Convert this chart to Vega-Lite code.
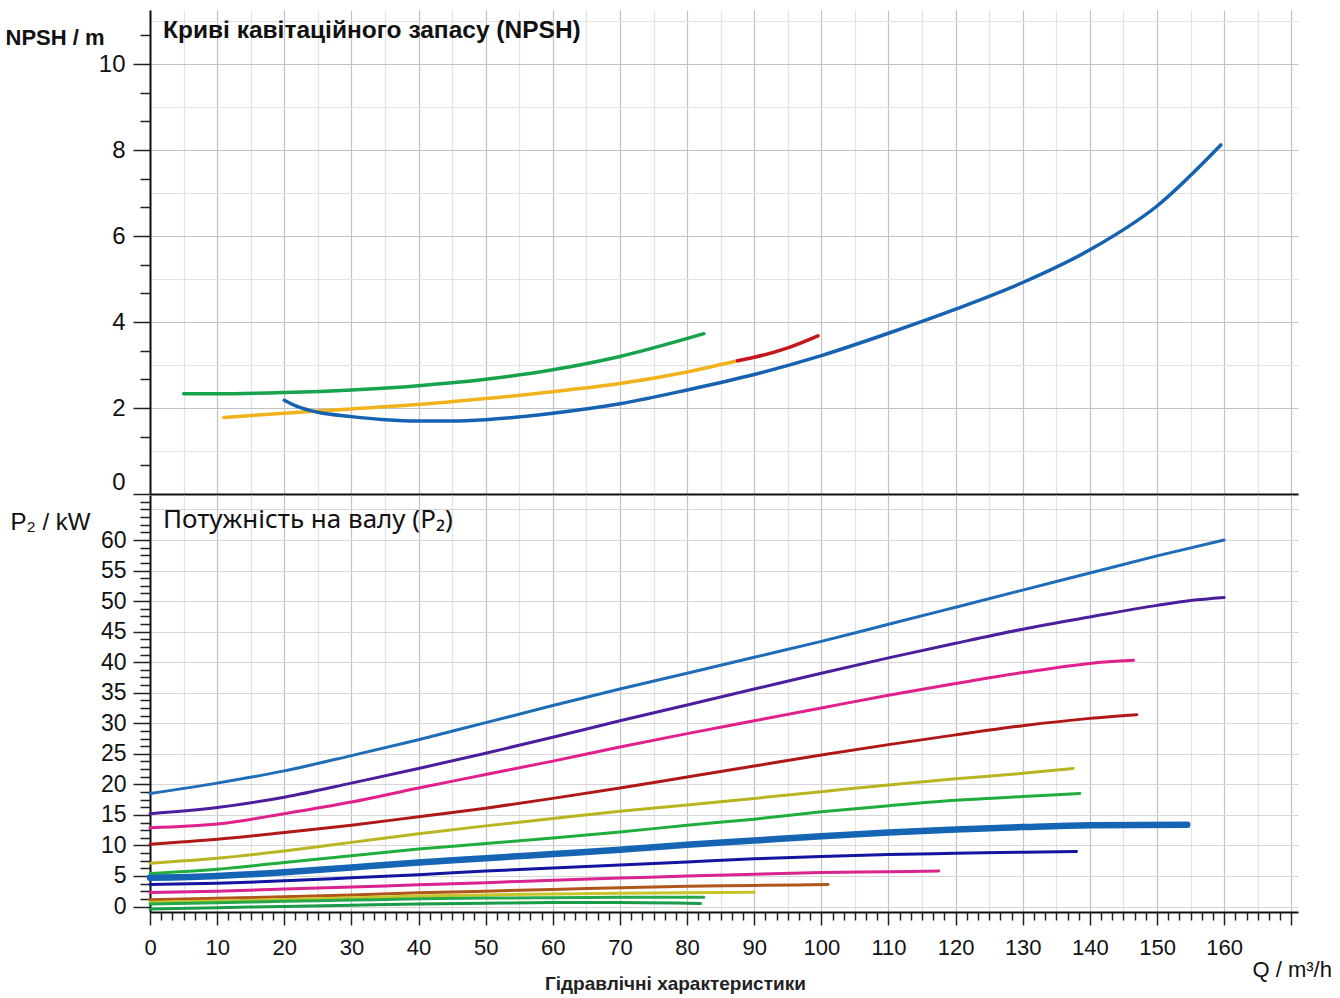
{
"$schema":"https://vega.github.io/schema/vega-lite/v6.json",
"padding":{"left":5,"top":10,"right":5,"bottom":5},
"background":"white",
"spacing":0,
"resolve":{"scale":{"color":"independent"}},
"config":{"font":"Liberation Sans","view":{"stroke":null},"concat":{"spacing":0}},
"title":{"text":"Гідравлічні характеристики","orient":"bottom","anchor":"start","dx":540,"offset":-5,"fontSize":19,"fontWeight":"bold","color":"#222"},
"datasets":{
"npsh":[
{"c":"n1","Q":5,"v":2.33},{"c":"n1","Q":10,"v":2.33},{"c":"n1","Q":20,"v":2.36},{"c":"n1","Q":30,"v":2.42},{"c":"n1","Q":40,"v":2.52},{"c":"n1","Q":50,"v":2.67},{"c":"n1","Q":60,"v":2.89},{"c":"n1","Q":70,"v":3.2},{"c":"n1","Q":82.5,"v":3.73},
{"c":"n2","Q":11,"v":1.78},{"c":"n2","Q":20,"v":1.88},{"c":"n2","Q":30,"v":1.98},{"c":"n2","Q":40,"v":2.08},{"c":"n2","Q":50,"v":2.22},{"c":"n2","Q":60,"v":2.38},{"c":"n2","Q":70,"v":2.57},{"c":"n2","Q":80,"v":2.84},{"c":"n2","Q":87.5,"v":3.1},
{"c":"n3","Q":87.5,"v":3.1},{"c":"n3","Q":90,"v":3.18},{"c":"n3","Q":95,"v":3.4},{"c":"n3","Q":99.5,"v":3.68},
{"c":"n4","Q":20,"v":2.18},{"c":"n4","Q":22,"v":2.03},{"c":"n4","Q":25,"v":1.9},{"c":"n4","Q":30,"v":1.8},{"c":"n4","Q":35,"v":1.73},{"c":"n4","Q":40,"v":1.7},{"c":"n4","Q":45,"v":1.7},{"c":"n4","Q":50,"v":1.73},{"c":"n4","Q":60,"v":1.88},{"c":"n4","Q":70,"v":2.1},{"c":"n4","Q":80,"v":2.42},{"c":"n4","Q":90,"v":2.78},{"c":"n4","Q":100,"v":3.22},{"c":"n4","Q":110,"v":3.74},{"c":"n4","Q":120,"v":4.3},{"c":"n4","Q":130,"v":4.92},{"c":"n4","Q":140,"v":5.68},{"c":"n4","Q":150,"v":6.7},{"c":"n4","Q":159.5,"v":8.12}
],
"power":[
{"c":"p01","Q":0,"v":18.5},{"c":"p01","Q":10,"v":20.2},{"c":"p01","Q":20,"v":22.2},{"c":"p01","Q":30,"v":24.7},{"c":"p01","Q":40,"v":27.3},{"c":"p01","Q":50,"v":30.1},{"c":"p01","Q":60,"v":32.9},{"c":"p01","Q":70,"v":35.6},{"c":"p01","Q":80,"v":38.2},{"c":"p01","Q":90,"v":40.8},{"c":"p01","Q":100,"v":43.4},{"c":"p01","Q":110,"v":46.2},{"c":"p01","Q":120,"v":49.0},{"c":"p01","Q":130,"v":51.8},{"c":"p01","Q":140,"v":54.6},{"c":"p01","Q":150,"v":57.4},{"c":"p01","Q":160,"v":60},
{"c":"p02","Q":0,"v":15.2},{"c":"p02","Q":10,"v":16.2},{"c":"p02","Q":20,"v":17.9},{"c":"p02","Q":30,"v":20.2},{"c":"p02","Q":40,"v":22.6},{"c":"p02","Q":50,"v":25.1},{"c":"p02","Q":60,"v":27.7},{"c":"p02","Q":70,"v":30.4},{"c":"p02","Q":80,"v":33.0},{"c":"p02","Q":90,"v":35.6},{"c":"p02","Q":100,"v":38.2},{"c":"p02","Q":110,"v":40.7},{"c":"p02","Q":120,"v":43.1},{"c":"p02","Q":130,"v":45.4},{"c":"p02","Q":140,"v":47.4},{"c":"p02","Q":150,"v":49.3},{"c":"p02","Q":155,"v":50.1},{"c":"p02","Q":160,"v":50.6},
{"c":"p03","Q":0,"v":12.9},{"c":"p03","Q":10,"v":13.5},{"c":"p03","Q":20,"v":15.2},{"c":"p03","Q":30,"v":17.1},{"c":"p03","Q":40,"v":19.4},{"c":"p03","Q":50,"v":21.6},{"c":"p03","Q":60,"v":23.8},{"c":"p03","Q":70,"v":26.1},{"c":"p03","Q":80,"v":28.3},{"c":"p03","Q":90,"v":30.4},{"c":"p03","Q":100,"v":32.5},{"c":"p03","Q":110,"v":34.6},{"c":"p03","Q":120,"v":36.5},{"c":"p03","Q":130,"v":38.3},{"c":"p03","Q":140,"v":39.8},{"c":"p03","Q":146.5,"v":40.3},
{"c":"p04","Q":0,"v":10.2},{"c":"p04","Q":10,"v":11.0},{"c":"p04","Q":20,"v":12.1},{"c":"p04","Q":30,"v":13.3},{"c":"p04","Q":40,"v":14.7},{"c":"p04","Q":50,"v":16.1},{"c":"p04","Q":60,"v":17.7},{"c":"p04","Q":70,"v":19.4},{"c":"p04","Q":80,"v":21.2},{"c":"p04","Q":90,"v":23.0},{"c":"p04","Q":100,"v":24.8},{"c":"p04","Q":110,"v":26.5},{"c":"p04","Q":120,"v":28.1},{"c":"p04","Q":130,"v":29.6},{"c":"p04","Q":140,"v":30.8},{"c":"p04","Q":147,"v":31.4},
{"c":"p05","Q":0,"v":7.1},{"c":"p05","Q":10,"v":7.9},{"c":"p05","Q":20,"v":9.1},{"c":"p05","Q":30,"v":10.5},{"c":"p05","Q":40,"v":11.9},{"c":"p05","Q":50,"v":13.2},{"c":"p05","Q":60,"v":14.4},{"c":"p05","Q":70,"v":15.6},{"c":"p05","Q":80,"v":16.6},{"c":"p05","Q":90,"v":17.7},{"c":"p05","Q":100,"v":18.8},{"c":"p05","Q":110,"v":19.9},{"c":"p05","Q":120,"v":20.9},{"c":"p05","Q":130,"v":21.8},{"c":"p05","Q":137.5,"v":22.6},
{"c":"p06","Q":0,"v":5.4},{"c":"p06","Q":10,"v":6.1},{"c":"p06","Q":20,"v":7.2},{"c":"p06","Q":30,"v":8.3},{"c":"p06","Q":40,"v":9.4},{"c":"p06","Q":50,"v":10.3},{"c":"p06","Q":60,"v":11.2},{"c":"p06","Q":70,"v":12.2},{"c":"p06","Q":80,"v":13.3},{"c":"p06","Q":90,"v":14.3},{"c":"p06","Q":100,"v":15.5},{"c":"p06","Q":110,"v":16.5},{"c":"p06","Q":120,"v":17.4},{"c":"p06","Q":130,"v":18.0},{"c":"p06","Q":138.5,"v":18.5},
{"c":"p07","Q":0,"v":4.7},{"c":"p07","Q":10,"v":5.0},{"c":"p07","Q":20,"v":5.6},{"c":"p07","Q":30,"v":6.4},{"c":"p07","Q":40,"v":7.2},{"c":"p07","Q":50,"v":7.9},{"c":"p07","Q":60,"v":8.6},{"c":"p07","Q":70,"v":9.3},{"c":"p07","Q":80,"v":10.1},{"c":"p07","Q":90,"v":10.8},{"c":"p07","Q":100,"v":11.5},{"c":"p07","Q":110,"v":12.1},{"c":"p07","Q":120,"v":12.6},{"c":"p07","Q":130,"v":13.0},{"c":"p07","Q":140,"v":13.3},{"c":"p07","Q":154.5,"v":13.4},
{"c":"p08","Q":0,"v":3.6},{"c":"p08","Q":10,"v":3.8},{"c":"p08","Q":20,"v":4.2},{"c":"p08","Q":30,"v":4.7},{"c":"p08","Q":40,"v":5.2},{"c":"p08","Q":50,"v":5.8},{"c":"p08","Q":60,"v":6.3},{"c":"p08","Q":70,"v":6.8},{"c":"p08","Q":80,"v":7.3},{"c":"p08","Q":90,"v":7.8},{"c":"p08","Q":100,"v":8.2},{"c":"p08","Q":110,"v":8.5},{"c":"p08","Q":120,"v":8.7},{"c":"p08","Q":130,"v":8.9},{"c":"p08","Q":138,"v":9.0},
{"c":"p09","Q":0,"v":2.3},{"c":"p09","Q":10,"v":2.5},{"c":"p09","Q":20,"v":2.85},{"c":"p09","Q":30,"v":3.2},{"c":"p09","Q":40,"v":3.55},{"c":"p09","Q":50,"v":3.9},{"c":"p09","Q":60,"v":4.3},{"c":"p09","Q":70,"v":4.65},{"c":"p09","Q":80,"v":5.0},{"c":"p09","Q":90,"v":5.3},{"c":"p09","Q":100,"v":5.55},{"c":"p09","Q":110,"v":5.7},{"c":"p09","Q":117.5,"v":5.8},
{"c":"p10","Q":0,"v":1.1},{"c":"p10","Q":10,"v":1.35},{"c":"p10","Q":20,"v":1.6},{"c":"p10","Q":30,"v":1.9},{"c":"p10","Q":40,"v":2.25},{"c":"p10","Q":50,"v":2.5},{"c":"p10","Q":60,"v":2.8},{"c":"p10","Q":70,"v":3.05},{"c":"p10","Q":80,"v":3.3},{"c":"p10","Q":90,"v":3.45},{"c":"p10","Q":101,"v":3.6},
{"c":"p11","Q":0,"v":0.7},{"c":"p11","Q":10,"v":0.9},{"c":"p11","Q":20,"v":1.15},{"c":"p11","Q":30,"v":1.4},{"c":"p11","Q":40,"v":1.7},{"c":"p11","Q":50,"v":1.9},{"c":"p11","Q":60,"v":2.05},{"c":"p11","Q":70,"v":2.15},{"c":"p11","Q":80,"v":2.25},{"c":"p11","Q":90,"v":2.35},
{"c":"p12","Q":0,"v":0.4},{"c":"p12","Q":10,"v":0.6},{"c":"p12","Q":20,"v":0.85},{"c":"p12","Q":30,"v":1.05},{"c":"p12","Q":40,"v":1.25},{"c":"p12","Q":50,"v":1.38},{"c":"p12","Q":60,"v":1.45},{"c":"p12","Q":70,"v":1.5},{"c":"p12","Q":82.5,"v":1.5},
{"c":"p13","Q":0,"v":-0.4},{"c":"p13","Q":10,"v":-0.2},{"c":"p13","Q":20,"v":0.0},{"c":"p13","Q":30,"v":0.2},{"c":"p13","Q":40,"v":0.4},{"c":"p13","Q":50,"v":0.55},{"c":"p13","Q":60,"v":0.65},{"c":"p13","Q":70,"v":0.65},{"c":"p13","Q":82,"v":0.5}
]
},
"vconcat":[
{
"width":1148,"height":484,
"data":{"name":"npsh"},
"title":{"text":"Криві кавітаційного запасу (NPSH)","anchor":"start","frame":"group","orient":"top","offset":-52,"dx":13,"baseline":"alphabetic","fontSize":24.5,"fontWeight":"bold","color":"#111"},
"mark":{"type":"line","interpolate":"monotone","strokeWidth":3.5,"strokeCap":"round"},
"encoding":{
"x":{"field":"Q","type":"quantitative","scale":{"domain":[0,171],"nice":false,"zero":false},
"axis":{"values":[0,5,10,15,20,25,30,35,40,45,50,55,60,65,70,75,80,85,90,95,100,105,110,115,120,125,130,135,140,145,150,155,160,165,170],"labels":false,"ticks":false,"title":null,"domain":true,"domainColor":"#111","domainWidth":2,"grid":true,"gridWidth":1.2,
"gridColor":{"condition":{"test":"abs(datum.value/10 - round(datum.value/10)) < 0.01","value":"#c2c2c2"},"value":"#e3e3e3"}}},
"y":{"field":"v","type":"quantitative","scale":{"domain":[0,11.26],"nice":false,"zero":false},
"axis":{"values":[0,0.667,1,1.333,2,2.667,3,3.333,4,4.667,5,5.333,6,6.667,7,7.333,8,8.667,9,9.333,10,10.667,11],
"labelExpr":"abs(datum.value/2 - round(datum.value/2)) < 0.01 ? format(datum.value, 'd') : ''",
"labelFontSize":24,"labelColor":"#111","labelPadding":8,"labelFlush":true,
"tickSize":{"condition":{"test":"abs(datum.value/2 - round(datum.value/2)) < 0.01","value":17},"value":10},
"tickOpacity":{"condition":{"test":"abs(datum.value - round(datum.value)) < 0.01 && abs(datum.value/2 - round(datum.value/2)) > 0.01","value":0},"value":1},
"tickColor":"#222","tickWidth":1.5,"domainColor":"#111","domainWidth":2,
"grid":true,"gridWidth":1.2,
"gridOpacity":{"condition":{"test":"abs(datum.value - round(datum.value)) > 0.01","value":0},"value":1},
"gridColor":{"condition":{"test":"abs(datum.value/2 - round(datum.value/2)) < 0.01","value":"#c2c2c2"},"value":"#e3e3e3"},
"title":"NPSH / m","titleAngle":0,"titleAlign":"left","titleBaseline":"middle","titleX":-145,"titleY":27,"titleFontSize":22,"titleFontWeight":"bold","titleColor":"#111"}},
"color":{"field":"c","type":"nominal","scale":{"domain":["n1","n2","n3","n4"],"range":["#17a24c","#f2b21c","#c4161c","#1662b2"]},"legend":null}
}
},
{
"width":1148,"height":417,
"data":{"name":"power"},
"title":{"text":"Потужність на валу (P₂)","anchor":"start","frame":"group","orient":"top","offset":-59,"dx":13,"baseline":"alphabetic","fontSize":26,"font":"Noto Sans","fontWeight":"normal","color":"#111"},
"mark":{"type":"line","interpolate":"monotone","strokeCap":"round"},
"encoding":{
"x":{"field":"Q","type":"quantitative","scale":{"domain":[0,171],"nice":false,"zero":false},
"axis":{"values":[0,1.667,3.333,5,6.667,8.333,10,11.667,13.333,15,16.667,18.333,20,21.667,23.333,25,26.667,28.333,30,31.667,33.333,35,36.667,38.333,40,41.667,43.333,45,46.667,48.333,50,51.667,53.333,55,56.667,58.333,60,61.667,63.333,65,66.667,68.333,70,71.667,73.333,75,76.667,78.333,80,81.667,83.333,85,86.667,88.333,90,91.667,93.333,95,96.667,98.333,100,101.667,103.333,105,106.667,108.333,110,111.667,113.333,115,116.667,118.333,120,121.667,123.333,125,126.667,128.333,130,131.667,133.333,135,136.667,138.333,140,141.667,143.333,145,146.667,148.333,150,151.667,153.333,155,156.667,158.333,160,161.667,163.333,165,166.667,168.333,170],
"labelExpr":"abs(datum.value/10 - round(datum.value/10)) < 0.01 && datum.value < 165 ? format(datum.value, 'd') : ''",
"labelFontSize":22,"labelColor":"#111","labelPadding":12,"labelFlush":false,"labelOverlap":false,
"tickSize":{"condition":{"test":"abs(datum.value/10 - round(datum.value/10)) < 0.01","value":13},"value":8},
"tickColor":"#222","tickWidth":1.5,"domainColor":"#111","domainWidth":2,
"grid":true,"gridWidth":1.2,
"gridOpacity":{"condition":{"test":"abs(datum.value/5 - round(datum.value/5)) > 0.01","value":0},"value":1},
"gridColor":{"condition":{"test":"abs(datum.value/10 - round(datum.value/10)) < 0.01","value":"#c2c2c2"},"value":"#e3e3e3"},
"title":"Q / m³/h","titleAngle":0,"titleAlign":"left","titleBaseline":"middle","titleX":1102,"titleY":57,"titleFontSize":22,"titleFontWeight":"normal","titleColor":"#111"}},
"y":{"field":"v","type":"quantitative","scale":{"domain":[-0.9,67.37],"nice":false,"zero":false},
"axis":{"values":[0,1.25,2.5,3.75,5,6.25,7.5,8.75,10,11.25,12.5,13.75,15,16.25,17.5,18.75,20,21.25,22.5,23.75,25,26.25,27.5,28.75,30,31.25,32.5,33.75,35,36.25,37.5,38.75,40,41.25,42.5,43.75,45,46.25,47.5,48.75,50,51.25,52.5,53.75,55,56.25,57.5,58.75,60,61.25,62.5,63.75,65,66.25],
"labelExpr":"abs(datum.value/5 - round(datum.value/5)) < 0.01 && datum.value <= 60 ? format(datum.value, 'd') : ''",
"labelFontSize":23,"labelColor":"#111","labelPadding":7,
"tickSize":{"condition":{"test":"abs(datum.value/5 - round(datum.value/5)) < 0.01 && datum.value <= 60","value":17},"value":10},
"tickColor":"#222","tickWidth":1.5,"domainColor":"#111","domainWidth":2,
"grid":true,"gridWidth":1.2,
"gridOpacity":{"condition":{"test":"abs(datum.value/5 - round(datum.value/5)) > 0.01","value":0},"value":1},
"gridColor":"#d6d6d6",
"title":"P₂ / kW","titleAngle":0,"titleAlign":"left","titleBaseline":"middle","titleX":-140,"titleY":27,"titleFontSize":24,"titleFontWeight":"normal","titleColor":"#111"}},
"color":{"field":"c","type":"nominal","scale":{"domain":["p01","p02","p03","p04","p05","p06","p07","p08","p09","p10","p11","p12","p13"],"range":["#1f6cb8","#4b1e9e","#e0208c","#b01818","#b9b520","#1fae3c","#1664b4","#1414a0","#d9238f","#b0561a","#c8c42a","#25a84c","#189c48"]},"legend":null},
"strokeWidth":{"condition":{"test":"datum.c == 'p07'","value":6.5},"value":3}
}
}
]
}
